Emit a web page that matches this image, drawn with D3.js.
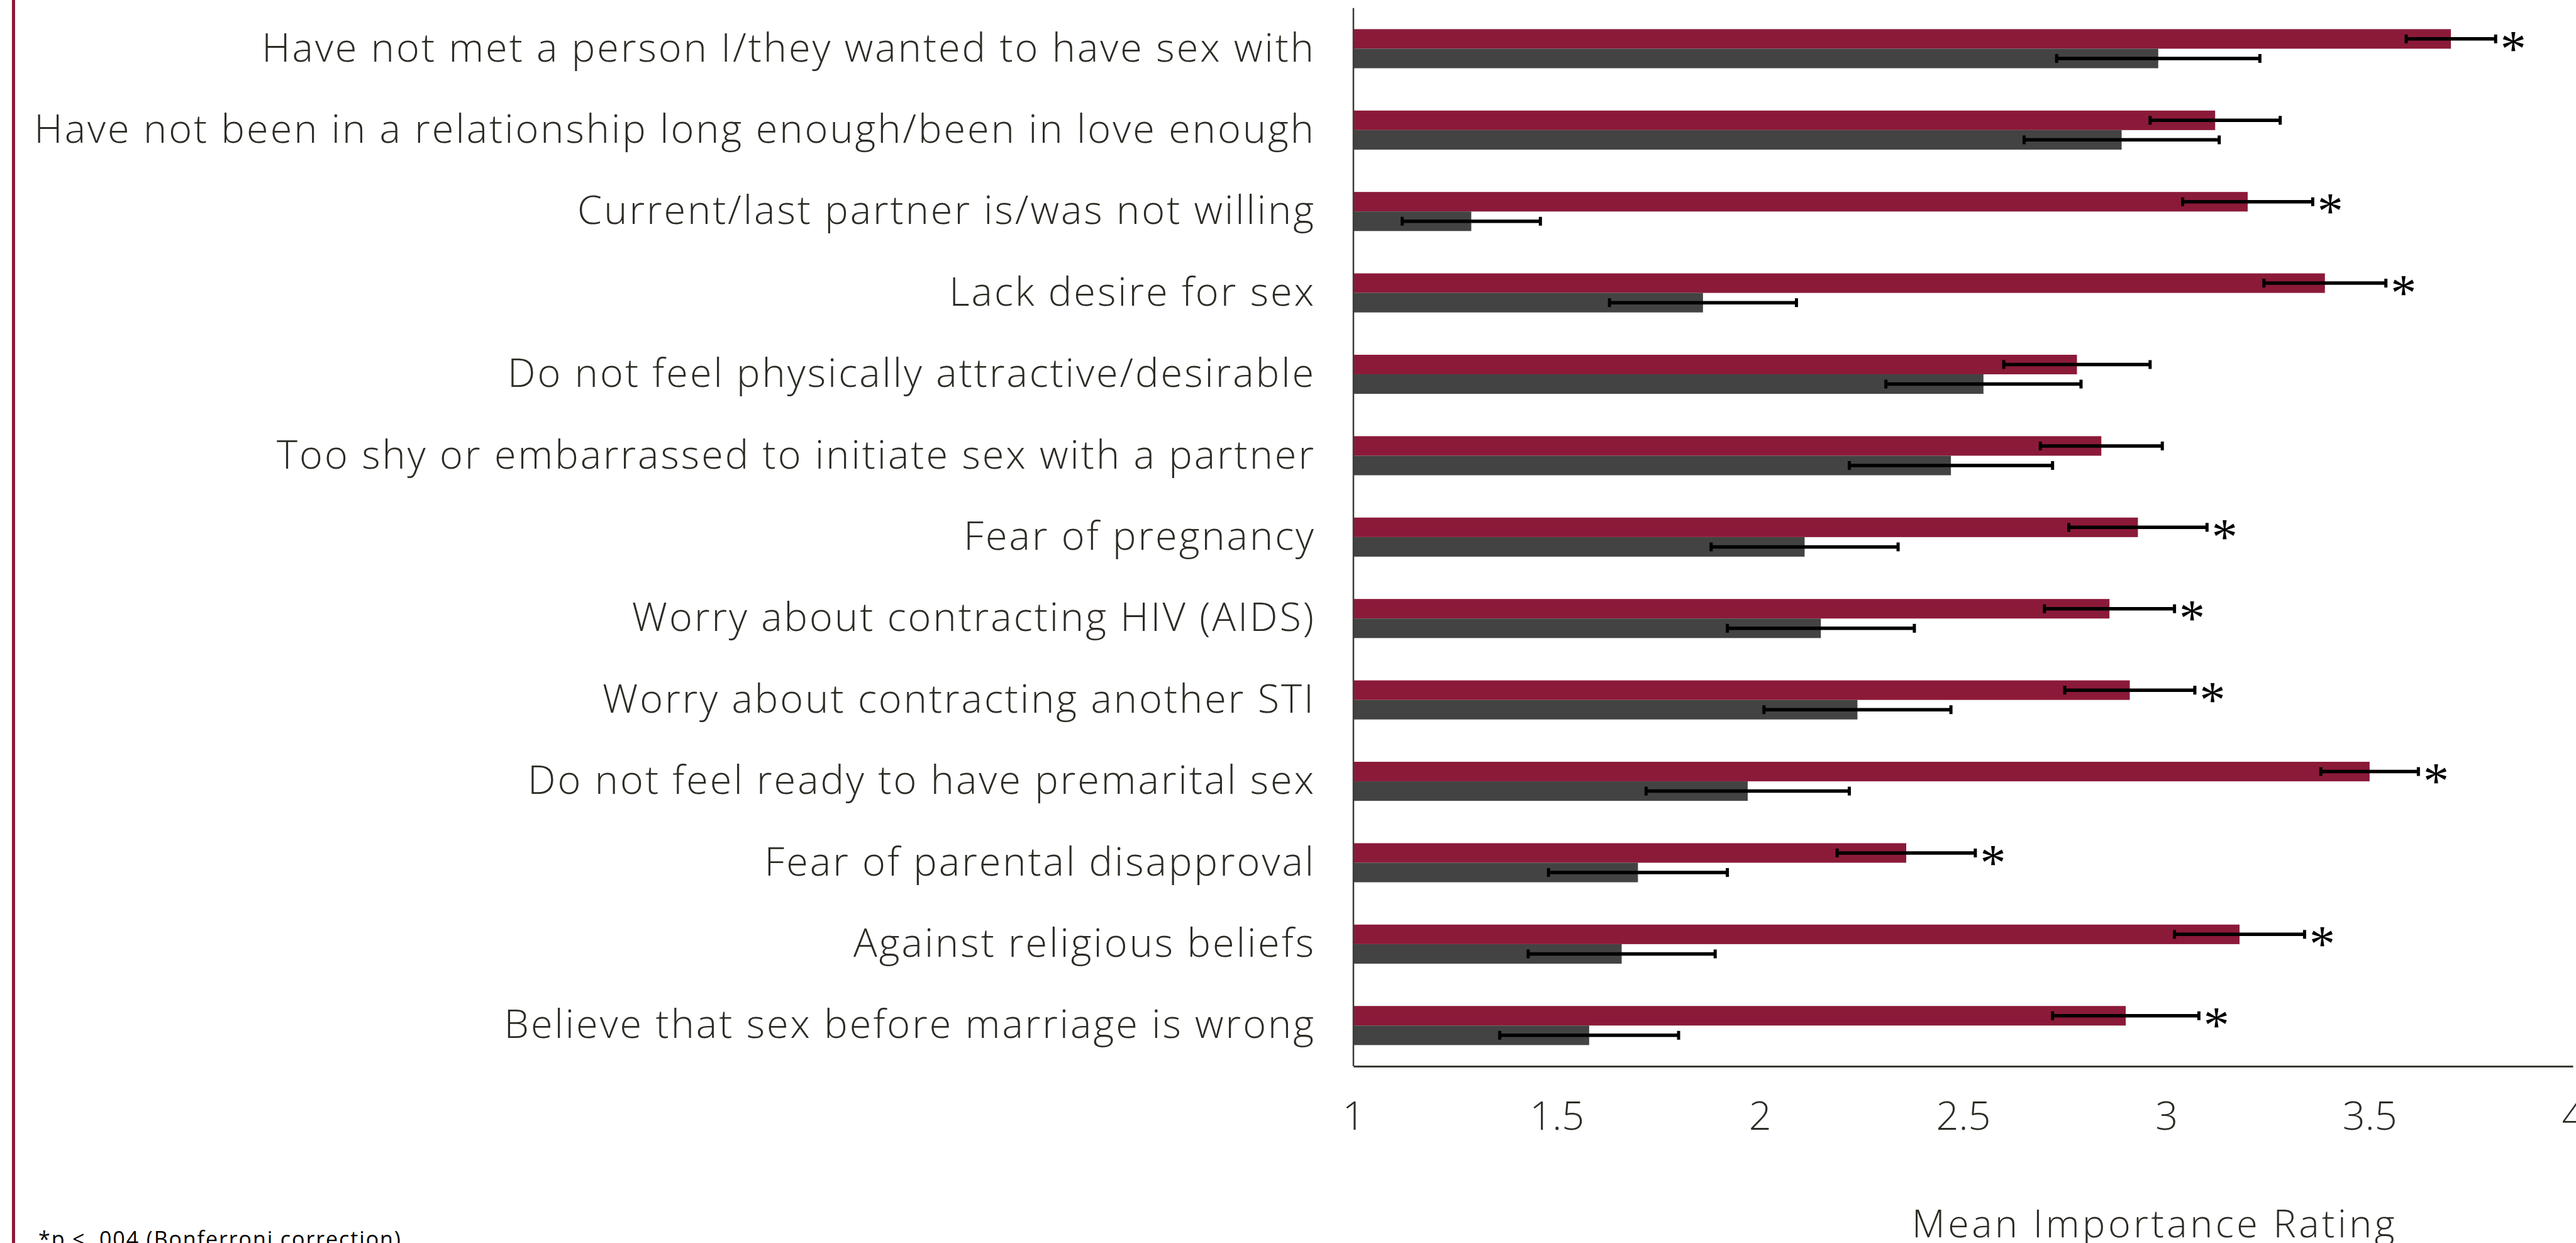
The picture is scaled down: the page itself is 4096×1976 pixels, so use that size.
<!DOCTYPE html>
<html>
<head>
<meta charset="utf-8">
<script src="https://cdn.jsdelivr.net/npm/d3@7"></script>
<style>
  body { margin: 0; background: #fff; overflow: hidden; }
</style>
</head>
<body>
<svg class="main"></svg>
<script>
var categories = [
    "Have not met a person I/they wanted to have sex with",
    "Have not been in a relationship long enough/been in love enough",
    "Current/last partner is/was not willing",
    "Lack desire for sex",
    "Do not feel physically attractive/desirable",
    "Too shy or embarrassed to initiate sex with a partner",
    "Fear of pregnancy",
    "Worry about contracting HIV (AIDS)",
    "Worry about contracting another STI",
    "Do not feel ready to have premarital sex",
    "Fear of parental disapproval",
    "Against religious beliefs",
    "Believe that sex before marriage is wrong"
];

// red series
var redMeans = [3.70, 3.12, 3.20, 3.39, 2.78, 2.84, 2.93, 2.86, 2.91, 3.50, 2.36, 3.18, 2.90];
var redErrors = [0.11, 0.16, 0.16, 0.15, 0.18, 0.15, 0.17, 0.16, 0.16, 0.12, 0.17, 0.16, 0.18];
// grey series
var greyMeans = [2.98, 2.89, 1.29, 1.86, 2.55, 2.47, 2.11, 2.15, 2.24, 1.97, 1.70, 1.66, 1.58];
var greyErrors = [0.25, 0.24, 0.17, 0.23, 0.24, 0.25, 0.23, 0.23, 0.23, 0.25, 0.22, 0.23, 0.22];
// significant difference marker
var significant = [1, 0, 1, 1, 0, 0, 1, 1, 1, 1, 1, 1, 1];

var xTicks = [1, 1.5, 2, 2.5, 3, 3.5, 4];
var xTitle = "Mean Importance Rating";
var footnote = "*p < .004 (Bonferroni correction)";

var width = 4096,
    height = 1976,
    plotLeft = 2152,
    plotRight = 4091,
    plotTop = 12.7,
    plotBottom = 1695,
    textColor = "#2e2b25",
    font = "'Century Gothic', 'Open Sans', sans-serif";

var main = d3.select(".main")
    .attr("width", width)
    .attr("height", height);

// thin red rule at the far left
main.append("line")
    .attr("x1", 21.5).attr("x2", 21.5)
    .attr("y1", 0).attr("y2", height)
    .attr("stroke", "#8b1a39")
    .attr("stroke-width", 5);

var x = d3.scaleLinear().domain([1, 4]).range([plotLeft, plotRight]);

var y = d3.scaleBand()
    .domain(categories)
    .range([plotTop, plotBottom])
    .paddingInner(0.52)
    .paddingOuter(0.26);

var sub = d3.scaleBand()
    .domain(["red", "grey"])
    .range([0, y.bandwidth()]);

var rows = categories.map(function(c, i) {
    return [
        {cat: c, key: "red", mean: redMeans[i], err: redErrors[i], color: "#8b1a39", sig: significant[i]},
        {cat: c, key: "grey", mean: greyMeans[i], err: greyErrors[i], color: "#434343", sig: 0}
    ];
});
var bars = d3.merge(rows);

main.append("g").selectAll("rect")
    .data(bars)
    .enter().append("rect")
    .attr("x", x(1))
    .attr("y", function(d) { return y(d.cat) + sub(d.key); })
    .attr("width", function(d) { return x(d.mean) - x(1); })
    .attr("height", sub.bandwidth())
    .attr("fill", function(d) { return d.color; });

// error bars
var eb = main.append("g").selectAll("g")
    .data(bars)
    .enter().append("g")
    .attr("transform", function(d) {
        return "translate(0," + (y(d.cat) + sub(d.key) + sub.bandwidth() / 2) + ")";
    });

eb.append("line")
    .attr("x1", function(d) { return x(d.mean - d.err); })
    .attr("x2", function(d) { return x(d.mean + d.err); })
    .attr("stroke", "#000")
    .attr("stroke-width", 5.5);

eb.selectAll(".cap")
    .data(function(d) { return [d.mean - d.err, d.mean + d.err]; })
    .enter().append("line")
    .attr("class", "cap")
    .attr("x1", function(v) { return x(v); })
    .attr("x2", function(v) { return x(v); })
    .attr("y1", -7).attr("y2", 7)
    .attr("stroke", "#000")
    .attr("stroke-width", 5);

eb.filter(function(d) { return d.sig; })
    .append("text")
    .attr("x", function(d) { return x(d.mean + d.err) + 28; })
    .attr("dy", "0.52em")
    .attr("text-anchor", "middle")
    .attr("font-family", "'Liberation Serif', serif")
    .attr("font-size", 82)
    .attr("fill", "#000")
    .text("*");

// category axis
var yAxis = main.append("g")
    .attr("transform", "translate(" + plotLeft + ",0)")
    .call(d3.axisLeft(y).tickSize(0).tickPadding(60));
yAxis.select(".domain").remove();
yAxis.selectAll("text")
    .attr("font-family", font)
    .attr("font-size", 63)
    .attr("font-weight", 300)
    .attr("letter-spacing", "3px")
    .attr("fill", textColor);

main.append("line")
    .attr("x1", plotLeft).attr("x2", plotLeft)
    .attr("y1", plotTop).attr("y2", plotBottom)
    .attr("stroke", "#3a3a32")
    .attr("stroke-width", 2.5);

// value axis
var xAxis = main.append("g")
    .attr("transform", "translate(0," + plotBottom + ")")
    .call(d3.axisBottom(x).tickValues(xTicks).tickSize(0).tickFormat(d3.format("")));
xAxis.select(".domain")
    .attr("stroke", "#3a3a32")
    .attr("stroke-width", 3);
xAxis.selectAll("text")
    .attr("y", 1796 - plotBottom)
    .attr("dy", 0)
    .attr("font-family", font)
    .attr("font-size", 63)
    .attr("font-weight", 300)
    .attr("fill", textColor);

main.append("text")
    .attr("x", 3426)
    .attr("y", 1967)
    .attr("text-anchor", "middle")
    .attr("font-family", font)
    .attr("font-size", 61)
    .attr("font-weight", 300)
    .attr("letter-spacing", "4.5px")
    .attr("fill", textColor)
    .text(xTitle);

main.append("text")
    .attr("x", 61)
    .attr("y", 1982)
    .attr("font-family", font)
    .attr("font-size", 34)
    .attr("letter-spacing", "1.9px")
    .attr("fill", "#000")
    .text(footnote);
</script>
</body>
</html>
